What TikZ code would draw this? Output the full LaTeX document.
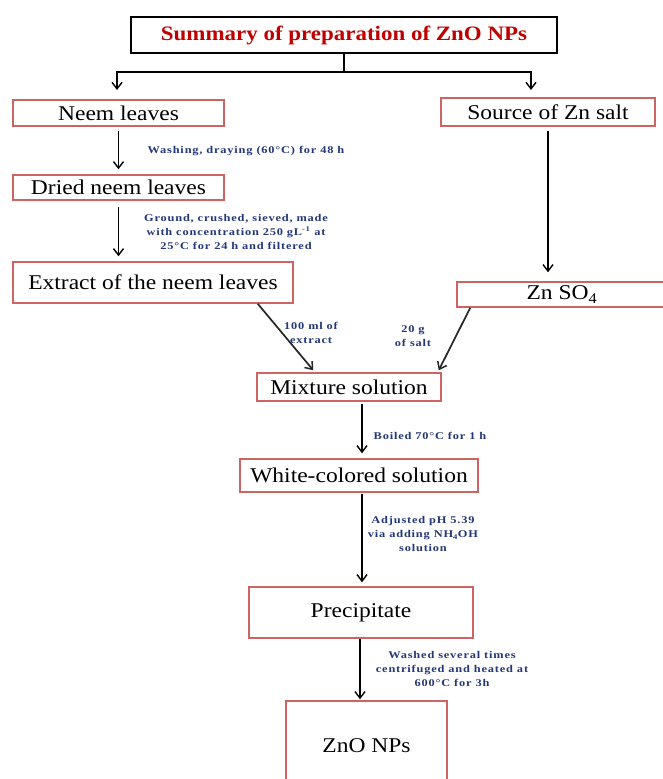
\documentclass[tikz,border=0pt]{standalone}
\usepackage{fontspec}
\setmainfont{Liberation Serif}[FakeStretch=1.12]
\newfontfamily\lblfont{Liberation Serif}[FakeStretch=1.2,LetterSpace=8]
\usetikzlibrary{arrows.meta,calc}
\definecolor{boxred}{RGB}{205,100,100}
\definecolor{titlered}{RGB}{192,0,0}
\definecolor{lblblue}{RGB}{35,55,120}
\tikzset{
 box/.style={draw=boxred, line width=1.5pt, fill=white, inner sep=0pt, font=\fontsize{21}{23}\selectfont, text=black},
 titlebox/.style={draw=black, line width=1.3pt, fill=white, inner sep=0pt, font=\fontsize{20.5}{22}\selectfont\bfseries, text=titlered},
 lbl/.style={font=\lblfont\bfseries\fontsize{10.3}{14}\selectfont, text=lblblue, align=center, inner sep=0pt},
 arr/.style={draw=black, line width=1.3pt, -{Straight Barb[length=6.5pt,width=10pt,line width=1.4pt]}},
 diag/.style={draw=black!85, line width=1.7pt, -{Straight Barb[length=6.5pt,width=10pt,line width=1.5pt]}},
 conn/.style={draw=black, line width=1.3pt}
}
\begin{document}
\begin{tikzpicture}[x=1pt,y=-1pt]
\useasboundingbox (0,0) rectangle (663,779);
% boxes
\node[titlebox, minimum width=426pt, minimum height=36pt] (title) at (344,35) {Summary of preparation of ZnO NPs};
\node[box, minimum width=211pt, minimum height=26pt] (neem) at (118.5,113) {Neem leaves};
\node[box, minimum width=214pt, minimum height=28pt] (source) at (548,112) {Source of Zn salt};
\node[box, minimum width=211pt, minimum height=25pt] (dried) at (118.5,187.5) {Dried neem leaves};
\node[box, minimum width=280pt, minimum height=41pt] (extract) at (153,282.5) {Extract of the neem leaves};
\node[box, minimum width=210pt, minimum height=25pt] (znso) at (562,294.5) {Zn SO\textsubscript{4}};
\node[box, minimum width=184pt, minimum height=28pt] (mixture) at (349,387) {Mixture solution};
\node[box, minimum width=238pt, minimum height=33pt] (white) at (359,475.5) {White-colored solution};
\node[box, minimum width=224pt, minimum height=51pt] (precip) at (361,612.5) {Precipitate};
\node[box, minimum width=161pt, minimum height=90pt] (zno) at (366.5,746) {ZnO NPs};
% top branching
\coordinate (jm) at (344,72);
\coordinate (tl) at (117,90);
\coordinate (tr) at (531,90);
\draw[conn] (title.south) -- (jm);
\draw[arr] (jm) -| (tl);
\draw[arr] (jm) -| (tr);
% vertical arrows
\draw[arr] ([yshift=-4pt]neem.south) -- ([yshift=5pt]dried.north);
\draw[arr] ([yshift=-6pt]dried.south) -- ([yshift=5pt]dried.south |- extract.north);
\draw[arr] ([yshift=-4pt]source.south) -- ([yshift=9pt]source.south |- znso.north);
\draw[diag] ([xshift=-36pt]extract.south east) -- ([xshift=57pt,yshift=2pt]mixture.north west);
\draw[diag] ([xshift=14pt]znso.south west) -- ([xshift=-3pt,yshift=2pt]mixture.north east);
\draw[arr] ([xshift=13pt,yshift=-2pt]mixture.south) -- ([xshift=13pt,yshift=5pt]mixture.south |- white.north);
\draw[arr] ([xshift=3pt,yshift=-1pt]white.south) -- ([xshift=3pt,yshift=4pt]white.south |- precip.north);
\draw[arr] ([xshift=-1pt]precip.south) -- ([xshift=-1pt,yshift=1pt]precip.south |- zno.north);
% labels
\node[lbl] (l1) at (246,151) {Washing, draying (60°C) for 48 h};
\node[lbl] (l2) at (236,232) {Ground, crushed, sieved, made\\with concentration 250 gL\textsuperscript{-1} at\\25°C for 24 h and filtered};
\node[lbl] (l3) at (311,333) {100 ml of\\extract};
\node[lbl] (l4) at (413,336) {20 g\\of salt};
\node[lbl] (l5) at (430,436) {Boiled 70°C for 1 h};
\node[lbl] (l6) at (423,534) {Adjusted pH 5.39\\via adding NH\textsubscript{4}OH\\solution};
\node[lbl] (l7) at (452,669) {Washed several times\\centrifuged  and heated at\\600°C for 3h};
\end{tikzpicture}
\end{document}
